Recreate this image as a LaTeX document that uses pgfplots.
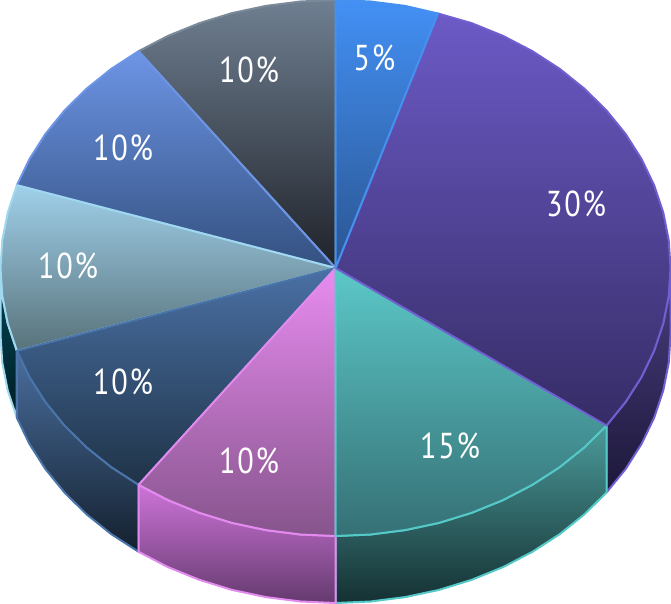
\documentclass[border=0pt]{standalone}
\usepackage{pgfplots}
\pgfplotsset{compat=1.18}
\usepackage{fontspec}
\setmainfont[FakeStretch=0.84,LetterSpace=5]{PT Sans}
\definecolor{e1}{HTML}{4690F0}
\definecolor{e2}{HTML}{6F5FD0}
\definecolor{e3}{HTML}{55C8C8}
\definecolor{e4}{HTML}{E38AEE}
\definecolor{e5}{HTML}{4A75AA}
\definecolor{e6}{HTML}{A0D8F0}
\definecolor{e7}{HTML}{6D95E6}
\definecolor{e8}{HTML}{7A8A99}
\tikzset{lab/.style={text=white,font=\fontsize{36}{36}\selectfont,inner sep=0pt,anchor=center}}
\begin{document}
\begin{tikzpicture}
\begin{axis}[
  scale only axis, width=671pt, height=604pt,
  xmin=-0.5, xmax=670.5, ymin=0, ymax=604, y dir=reverse,
  axis lines=none, clip=true,
  every axis plot post/.append style={line width=2pt, line join=round}
]
% side walls
\addplot[draw=e6, top color={rgb,255:red,0;green,70;blue,84}, bottom color={rgb,255:red,0;green,30;blue,38}, mark=none] coordinates {(16.4,350.8)(7.3,323.7)(1.8,296)(0,268)(0,335)(1.8,363)(7.3,390.7)(16.4,417.8)} --cycle;
\addplot[draw=e5, top color={rgb,255:red,74;green,111;blue,159}, bottom color={rgb,255:red,20;green,32;blue,46}, mark=none] coordinates {(138.1,484.8)(110.9,467.2)(86.1,447.3)(64,425.5)(44.9,402)(29,377)(16.4,350.8)(16.4,417.8)(29,444)(44.9,469)(64,492.5)(86.1,514.3)(110.9,534.2)(138.1,551.8)} --cycle;
\addplot[draw=e2, top color={rgb,255:red,74;green,62;blue,130}, bottom color={rgb,255:red,28;green,24;blue,56}, mark=none] coordinates {(670,268)(668.2,296)(662.7,323.7)(653.6,350.8)(641,377)(625.1,402)(606,425.5)(606,492.5)(625.1,469)(641,444)(653.6,417.8)(662.7,390.7)(668.2,363)(670,335)} --cycle;
\addplot[draw=e3, top color={rgb,255:red,75;green,154;blue,154}, bottom color={rgb,255:red,21;green,48;blue,50}, mark=none] coordinates {(606,425.5)(583.9,447.3)(559.1,467.2)(531.9,484.8)(502.5,500.1)(471.2,512.8)(438.5,522.9)(404.6,530.1)(370,534.5)(335,536)(335,603)(370,601.5)(404.6,597.1)(438.5,589.9)(471.2,579.8)(502.5,567.1)(531.9,551.8)(559.1,534.2)(583.9,514.3)(606,492.5)} --cycle;
\addplot[draw=e4, top color={rgb,255:red,205;green,116;blue,216}, bottom color={rgb,255:red,100;green,58;blue,110}, mark=none] coordinates {(335,536)(300,534.5)(265.4,530.1)(231.5,522.9)(198.8,512.8)(167.5,500.1)(138.1,484.8)(138.1,551.8)(167.5,567.1)(198.8,579.8)(231.5,589.9)(265.4,597.1)(300,601.5)(335,603)} --cycle;
% top faces
\addplot[draw=e8, top color={rgb,255:red,111;green,127;blue,145}, bottom color={rgb,255:red,31;green,34;blue,41}, mark=none] coordinates {(335,268)(138.1,51.2)(167.5,35.9)(198.8,23.2)(231.5,13.1)(265.4,5.9)(300,1.5)(335,0)} --cycle;
\addplot[draw=e7, top color={rgb,255:red,109;green,149;blue,230}, bottom color={rgb,255:red,51;green,80;blue,127}, mark=none] coordinates {(335,268)(16.4,185.2)(29,159)(44.9,134)(64,110.5)(86.1,88.7)(110.9,68.8)(138.1,51.2)} --cycle;
\addplot[draw=e6, top color={rgb,255:red,160;green,208;blue,234}, bottom color={rgb,255:red,88;green,114;blue,122}, mark=none] coordinates {(335,268)(16.4,350.8)(7.3,323.7)(1.8,296)(0,268)(1.8,240)(7.3,212.3)(16.4,185.2)} --cycle;
\addplot[draw=e5, top color={rgb,255:red,74;green,112;blue,164}, bottom color={rgb,255:red,31;green,51;blue,71}, mark=none] coordinates {(335,268)(138.1,484.8)(110.9,467.2)(86.1,447.3)(64,425.5)(44.9,402)(29,377)(16.4,350.8)} --cycle;
\addplot[draw=e4, top color={rgb,255:red,232;green,140;blue,240}, bottom color={rgb,255:red,134;green,84;blue,140}, mark=none] coordinates {(335,268)(335,536)(300,534.5)(265.4,530.1)(231.5,522.9)(198.8,512.8)(167.5,500.1)(138.1,484.8)} --cycle;
\addplot[draw=e3, top color={rgb,255:red,92;green,200;blue,200}, bottom color={rgb,255:red,53;green,112;blue,117}, mark=none] coordinates {(335,268)(606,425.5)(583.9,447.3)(559.1,467.2)(531.9,484.8)(502.5,500.1)(471.2,512.8)(438.5,522.9)(404.6,530.1)(370,534.5)(335,536)} --cycle;
\addplot[draw=e2, top color={rgb,255:red,108;green,90;blue,198}, bottom color={rgb,255:red,54;green,44;blue,102}, mark=none] coordinates {(335,268)(437.5,13.5)(471.2,23.2)(502.5,35.9)(531.9,51.2)(559.1,68.8)(583.9,88.7)(606,110.5)(625.1,134)(641,159)(653.6,185.2)(662.7,212.3)(668.2,240)(670,268)(668.2,296)(662.7,323.7)(653.6,350.8)(641,377)(625.1,402)(606,425.5)} --cycle;
\addplot[draw=e1, top color={rgb,255:red,67;green,144;blue,245}, bottom color={rgb,255:red,42;green,85;blue,144}, mark=none] coordinates {(335,268)(335,0)(370,1.5)(404.6,5.9)(437.5,13.5)} --cycle;
% labels
\node[lab] at (axis cs:374,58) {5\%};
\node[lab] at (axis cs:575.5,204) {30\%};
\node[lab] at (axis cs:449.5,446) {15\%};
\node[lab] at (axis cs:248.5,461) {10\%};
\node[lab] at (axis cs:122.5,382) {10\%};
\node[lab] at (axis cs:67.5,266) {10\%};
\node[lab] at (axis cs:122.5,148) {10\%};
\node[lab] at (axis cs:248.5,70) {10\%};
\end{axis}
\end{tikzpicture}
\end{document}
